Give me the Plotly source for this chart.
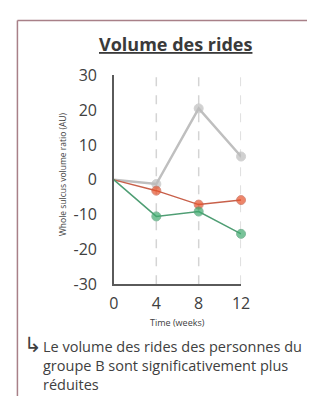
import plotly.graph_objects as go

weeks = [0, 4, 8, 12]
tick_labels = ["0", "4", "8", "12"]
grey_vals = [0, -1.2, 20.5, 6.7]
red_vals = [0, -3.1, -7.1, -5.8]
green_vals = [0, -10.5, -9.1, -15.5]
y_ticks = [-30, -20, -10, 0, 10, 20, 30]
y_tick_labels = ["-30", "-20", "-10", "0", "10", "20", "30"]
note_lines = ["Le volume des rides des personnes du",
              "groupe B sont significativement plus",
              "réduites"]

W, H = 316, 407
FONT = "Open Sans"
TXT = "#404040"

fig = go.Figure()

for wk in weeks[1:]:
    fig.add_shape(type="line", xref="x", yref="y", x0=wk, x1=wk, y0=-30, y1=30,
                  line=dict(color="#d4d4d4", width=1.5, dash="dash"), layer="below")

series = [
    (grey_vals, "#bfbfbf", "#bdbdbd", 2.5),
    (red_vals, "#c8604a", "#e8522a", 1.5),
    (green_vals, "#4f9e74", "#3fab6f", 1.5),
]
for vals, lc, mc, lw in series:
    fig.add_trace(go.Scatter(
        x=weeks, y=vals, mode="lines+markers",
        line=dict(color=lc, width=lw),
        marker=dict(color=[lc] + [mc] * 3, size=[1, 9, 9, 9]),
        cliponaxis=False, showlegend=False, hoverinfo="skip"))

x0p, x1p = 114 / W, 247 / W
y0p, y1p = (H - 289) / H, (H - 68) / H

fig.update_layout(
    width=W, height=H, margin=dict(l=0, r=0, t=0, b=0),
    paper_bgcolor="white", plot_bgcolor="white",
    font=dict(family=FONT, color=TXT),
    xaxis=dict(domain=[x0p, x1p], range=[0, 12], tickvals=weeks, ticktext=tick_labels,
               showgrid=False, zeroline=False, showline=True, linecolor="#5a5a5a",
               linewidth=1.5, ticks="", ticklabelstandoff=4,
               tickfont=dict(size=16, color=TXT, family=FONT)),
    yaxis=dict(domain=[y0p, y1p], range=[-30, 30], tickvals=y_ticks, ticktext=y_tick_labels,
               showgrid=False, zeroline=False, showline=True, linecolor="#5a5a5a",
               linewidth=1.5, ticks="", ticklabelstandoff=12,
               tickfont=dict(size=16, color=TXT, family=FONT)),
)

fig.add_shape(type="line", xref="paper", yref="paper", x0=13 / W, x1=1, y0=(H - 10) / H, y1=(H - 10) / H,
              line=dict(color="#a88088", width=1.5))
fig.add_shape(type="line", xref="paper", yref="paper", x0=13 / W, x1=13 / W, y0=0, y1=(H - 10) / H,
              line=dict(color="#a88088", width=1.5))

ann = [
    dict(text="<b><u>Volume des rides</u></b>", x=178 / W, y=(H - 35) / H, size=18, color="#3a3a3a"),
    dict(text="Whole sulcus volume ratio (AU)", x=60 / W, y=(H - 172) / H, size=8.5, color=TXT, angle=-90),
    dict(text="Time (weeks)", x=180 / W, y=(H - 329) / H, size=9, color=TXT),
]
for a in ann:
    fig.add_annotation(text=a["text"], x=a["x"], y=a["y"], xref="paper", yref="paper",
                       showarrow=False, xanchor="center", yanchor="middle",
                       textangle=a.get("angle", 0),
                       font=dict(size=a["size"], color=a["color"], family=FONT))

fig.add_annotation(text="↳", x=18 / W, y=(H - 353) / H, xref="paper", yref="paper",
                   showarrow=False, xanchor="left", yanchor="middle",
                   font=dict(size=21, color=TXT, family="DejaVu Sans"))
fig.add_annotation(text="<br>".join(note_lines),
                   x=38 / W, y=(H - 342) / H, xref="paper", yref="paper",
                   showarrow=False, xanchor="left", yanchor="top", align="left",
                   font=dict(size=14.5, color=TXT, family=FONT))

fig.write_html("out.html", config={"displayModeBar": False},
               post_script="document.body.style.margin='0';")
